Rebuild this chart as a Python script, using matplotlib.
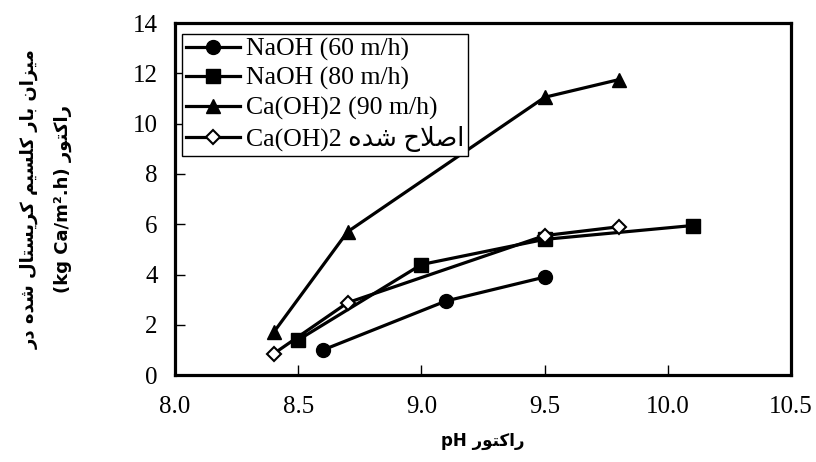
import matplotlib
matplotlib.use("Agg")
import matplotlib.pyplot as plt

# pH values and calcium load (kg Ca/m2.h)
ph_naoh60 = [8.6, 9.1, 9.5]
load_naoh60 = [1.0, 2.95, 3.9]

ph_naoh80 = [8.5, 9.0, 9.5, 10.1]
load_naoh80 = [1.4, 4.4, 5.4, 5.95]

ph_caoh90 = [8.4, 8.7, 9.5, 9.8]
load_caoh90 = [1.7, 5.7, 11.05, 11.75]

ph_caoh_mod = [8.4, 8.7, 9.5, 9.8]
load_caoh_mod = [0.85, 2.88, 5.55, 5.9]

x_ticks = [8.0, 8.5, 9.0, 9.5, 10.0, 10.5]
y_ticks = [0, 2, 4, 6, 8, 10, 12, 14]

# presentation forms: isolated, final, initial, medial (None = right-joining only)
FORMS = {
    "\u0627": ("\uFE8D", "\uFE8E", None, None),
    "\u0628": ("\uFE8F", "\uFE90", "\uFE91", "\uFE92"),
    "\u062A": ("\uFE95", "\uFE96", "\uFE97", "\uFE98"),
    "\u062D": ("\uFEA1", "\uFEA2", "\uFEA3", "\uFEA4"),
    "\u062F": ("\uFEA9", "\uFEAA", None, None),
    "\u0631": ("\uFEAD", "\uFEAE", None, None),
    "\u0632": ("\uFEAF", "\uFEB0", None, None),
    "\u0633": ("\uFEB1", "\uFEB2", "\uFEB3", "\uFEB4"),
    "\u0634": ("\uFEB5", "\uFEB6", "\uFEB7", "\uFEB8"),
    "\u0635": ("\uFEB9", "\uFEBA", "\uFEBB", "\uFEBC"),
    "\u0644": ("\uFEDD", "\uFEDE", "\uFEDF", "\uFEE0"),
    "\u0645": ("\uFEE1", "\uFEE2", "\uFEE3", "\uFEE4"),
    "\u0646": ("\uFEE5", "\uFEE6", "\uFEE7", "\uFEE8"),
    "\u0647": ("\uFEE9", "\uFEEA", "\uFEEB", "\uFEEC"),
    "\u0648": ("\uFEED", "\uFEEE", None, None),
    "\u06A9": ("\uFB8E", "\uFB8F", "\uFB90", "\uFB91"),
    "\u06CC": ("\uFBFC", "\uFBFD", "\uFBFE", "\uFBFF"),
}


def dual(c):
    return c in FORMS and FORMS[c][2] is not None


def rtl(text):
    """Shape Persian text into presentation forms and reverse it for display."""
    out = []
    i = 0
    while i < len(text):
        c = text[i]
        if c not in FORMS:
            out.append(c)
            i += 1
            continue
        prev = text[i - 1] if i > 0 else ""
        join_prev = dual(prev)
        if c == "\u0644" and i + 1 < len(text) and text[i + 1] == "\u0627":
            out.append("\uFEFC" if join_prev else "\uFEFB")
            i += 2
            continue
        nxt = text[i + 1] if i + 1 < len(text) else ""
        join_next = dual(c) and nxt in FORMS
        iso, fin, ini, med = FORMS[c]
        if join_prev and join_next:
            out.append(med)
        elif join_prev:
            out.append(fin)
        elif join_next:
            out.append(ini)
        else:
            out.append(iso)
        i += 1
    return "".join(reversed(out))


labels = [
    "NaOH (60 m/h)",
    "NaOH (80 m/h)",
    "Ca(OH)2 (90 m/h)",
    "Ca(OH)2 " + rtl("اصلاح شده"),
]
x_label = "pH " + rtl("راکتور")
y_label = rtl("میزان بار کلسیم کریستال شده در") + "\n" + "(kg Ca/m\u00b2.h) " + rtl("راکتور")

serif = ["Liberation Serif", "DejaVu Sans"]

fig = plt.figure(figsize=(8.16, 4.62), dpi=100)
ax = fig.add_axes([0.2145, 0.188, 0.755, 0.762])

lw = 2.3
ax.plot(ph_naoh60, load_naoh60, color="black", lw=lw, marker="o", ms=10, label=labels[0])
ax.plot(ph_naoh80, load_naoh80, color="black", lw=lw, marker="s", ms=10, label=labels[1])
ax.plot(ph_caoh90, load_caoh90, color="black", lw=lw, marker="^", ms=10, label=labels[2])
ax.plot(ph_caoh_mod, load_caoh_mod, color="black", lw=lw, marker="D", ms=7,
        mfc="white", mec="black", mew=1.5, label=labels[3])

ax.set_xlim(8.0, 10.5)
ax.set_ylim(0, 14)
ax.set_xticks(x_ticks)
ax.set_yticks(y_ticks)
ax.set_xticklabels([f"{v:.1f}" for v in x_ticks], family=serif, fontsize=18)
ax.set_yticklabels([str(v) for v in y_ticks], family=serif, fontsize=18)
ax.tick_params(direction="in", length=7, width=1)
ax.tick_params(axis="x", pad=15)
ax.tick_params(axis="y", pad=12.5)

for s in ax.spines.values():
    s.set_linewidth(2.3)

ax.set_xlabel(x_label, family="DejaVu Sans", fontweight="bold", fontsize=12, labelpad=10)
ax.set_ylabel(y_label, family="DejaVu Sans", fontweight="bold", fontsize=13,
              labelpad=44, linespacing=2.05)

leg = ax.legend(loc="upper left", bbox_to_anchor=(0.011, 0.97), prop={"family": serif, "size": 18.5},
                fancybox=False, framealpha=1, edgecolor="black", handlelength=2.1,
                borderpad=0.15, labelspacing=0.24, handletextpad=0.25, borderaxespad=0)
leg.get_frame().set_linewidth(1.0)

fig.savefig("out.png", dpi=100)
